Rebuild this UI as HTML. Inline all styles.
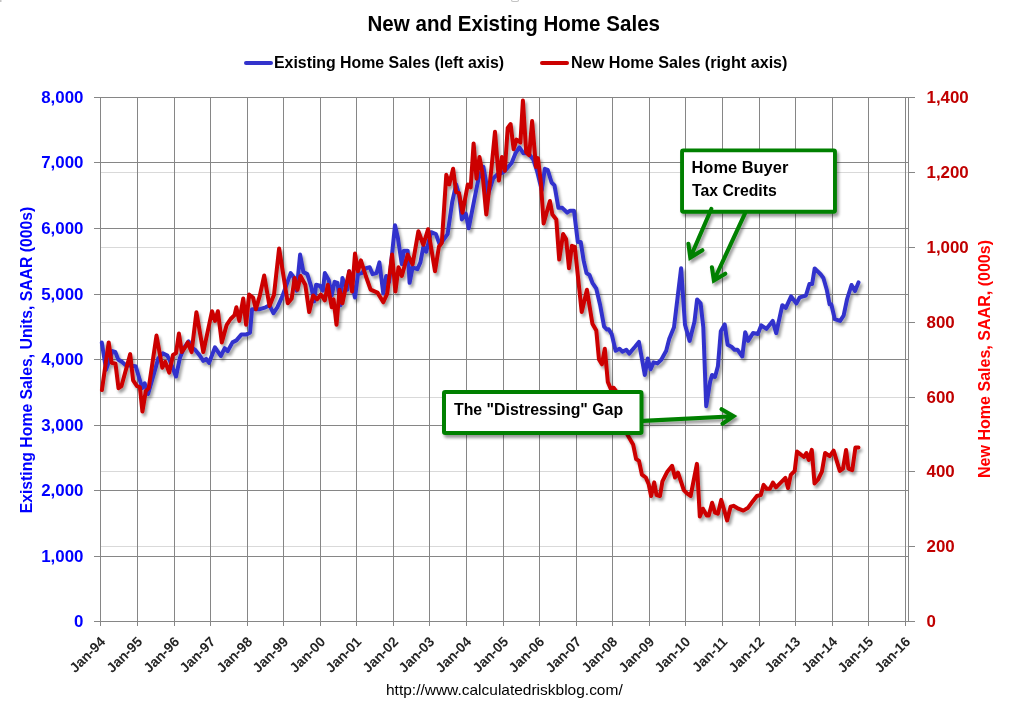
<!DOCTYPE html><html><head><meta charset="utf-8"><style>html,body{margin:0;padding:0;background:#fff;}svg{display:block;will-change:transform;}</style></head><body>
<svg width="1028" height="708" viewBox="0 0 1028 708" font-family='"Liberation Sans", sans-serif'>
<defs><filter id="sh" x="-5%" y="-5%" width="110%" height="110%"><feGaussianBlur in="SourceAlpha" stdDeviation="1.7"/><feOffset dx="2.2" dy="2.8" result="b"/><feComponentTransfer><feFuncA type="linear" slope="0.38"/></feComponentTransfer><feMerge><feMergeNode/><feMergeNode in="SourceGraphic"/></feMerge></filter><filter id="sh2" x="-10%" y="-10%" width="120%" height="130%"><feGaussianBlur in="SourceAlpha" stdDeviation="1.5"/><feOffset dx="2" dy="3"/><feComponentTransfer><feFuncA type="linear" slope="0.4"/></feComponentTransfer><feMerge><feMergeNode/><feMergeNode in="SourceGraphic"/></feMerge></filter></defs>
<rect width="1028" height="708" fill="#fff"/>
<filter id="hb"><feGaussianBlur stdDeviation="0.6"/></filter><rect x="511.5" y="-4" width="7" height="5.5" rx="1.5" fill="none" stroke="#c4c4c4" stroke-width="1.2" filter="url(#hb)"/><rect x="-2" y="-2" width="3.5" height="4" fill="#c4c4c4" filter="url(#hb)"/>
<rect x="101" y="172" width="807" height="1" fill="#d9d9d9"/>
<rect x="101" y="247" width="807" height="1" fill="#d9d9d9"/>
<rect x="101" y="322" width="807" height="1" fill="#d9d9d9"/>
<rect x="101" y="397" width="807" height="1" fill="#d9d9d9"/>
<rect x="101" y="471" width="807" height="1" fill="#d9d9d9"/>
<rect x="101" y="546" width="807" height="1" fill="#d9d9d9"/>
<rect x="94" y="97" width="814" height="1" fill="#868686"/>
<rect x="94" y="162" width="814" height="1" fill="#868686"/>
<rect x="94" y="228" width="814" height="1" fill="#868686"/>
<rect x="94" y="294" width="814" height="1" fill="#868686"/>
<rect x="94" y="359" width="814" height="1" fill="#868686"/>
<rect x="94" y="425" width="814" height="1" fill="#868686"/>
<rect x="94" y="490" width="814" height="1" fill="#868686"/>
<rect x="94" y="556" width="814" height="1" fill="#868686"/>
<rect x="94" y="621" width="814" height="1" fill="#868686"/>
<rect x="100" y="97" width="1" height="529" fill="#868686"/>
<rect x="137" y="97" width="1" height="529" fill="#868686"/>
<rect x="174" y="97" width="1" height="529" fill="#868686"/>
<rect x="210" y="97" width="1" height="529" fill="#868686"/>
<rect x="247" y="97" width="1" height="529" fill="#868686"/>
<rect x="283" y="97" width="1" height="529" fill="#868686"/>
<rect x="320" y="97" width="1" height="529" fill="#868686"/>
<rect x="356" y="97" width="1" height="529" fill="#868686"/>
<rect x="393" y="97" width="1" height="529" fill="#868686"/>
<rect x="429" y="97" width="1" height="529" fill="#868686"/>
<rect x="466" y="97" width="1" height="529" fill="#868686"/>
<rect x="503" y="97" width="1" height="529" fill="#868686"/>
<rect x="539" y="97" width="1" height="529" fill="#868686"/>
<rect x="576" y="97" width="1" height="529" fill="#868686"/>
<rect x="612" y="97" width="1" height="529" fill="#868686"/>
<rect x="649" y="97" width="1" height="529" fill="#868686"/>
<rect x="685" y="97" width="1" height="529" fill="#868686"/>
<rect x="722" y="97" width="1" height="529" fill="#868686"/>
<rect x="759" y="97" width="1" height="529" fill="#868686"/>
<rect x="795" y="97" width="1" height="529" fill="#868686"/>
<rect x="832" y="97" width="1" height="529" fill="#868686"/>
<rect x="868" y="97" width="1" height="529" fill="#868686"/>
<rect x="905" y="97" width="1" height="529" fill="#868686"/>
<rect x="908" y="97" width="1" height="525" fill="#868686"/>
<rect x="908" y="97" width="7" height="1" fill="#868686"/>
<rect x="908" y="172" width="7" height="1" fill="#868686"/>
<rect x="908" y="247" width="7" height="1" fill="#868686"/>
<rect x="908" y="322" width="7" height="1" fill="#868686"/>
<rect x="908" y="397" width="7" height="1" fill="#868686"/>
<rect x="908" y="471" width="7" height="1" fill="#868686"/>
<rect x="908" y="546" width="7" height="1" fill="#868686"/>
<rect x="908" y="621" width="7" height="1" fill="#868686"/>
<text x="83.5" y="103" text-anchor="end" font-size="16.9" font-weight="bold" fill="#0000ff">8,000</text>
<text x="83.5" y="168" text-anchor="end" font-size="16.9" font-weight="bold" fill="#0000ff">7,000</text>
<text x="83.5" y="234" text-anchor="end" font-size="16.9" font-weight="bold" fill="#0000ff">6,000</text>
<text x="83.5" y="300" text-anchor="end" font-size="16.9" font-weight="bold" fill="#0000ff">5,000</text>
<text x="83.5" y="365" text-anchor="end" font-size="16.9" font-weight="bold" fill="#0000ff">4,000</text>
<text x="83.5" y="431" text-anchor="end" font-size="16.9" font-weight="bold" fill="#0000ff">3,000</text>
<text x="83.5" y="496" text-anchor="end" font-size="16.9" font-weight="bold" fill="#0000ff">2,000</text>
<text x="83.5" y="562" text-anchor="end" font-size="16.9" font-weight="bold" fill="#0000ff">1,000</text>
<text x="83.5" y="627" text-anchor="end" font-size="16.9" font-weight="bold" fill="#0000ff">0</text>
<text x="926.5" y="103" font-size="16.9" font-weight="bold" fill="#c00000">1,400</text>
<text x="926.5" y="178" font-size="16.9" font-weight="bold" fill="#c00000">1,200</text>
<text x="926.5" y="253" font-size="16.9" font-weight="bold" fill="#c00000">1,000</text>
<text x="926.5" y="328" font-size="16.9" font-weight="bold" fill="#c00000">800</text>
<text x="926.5" y="403" font-size="16.9" font-weight="bold" fill="#c00000">600</text>
<text x="926.5" y="477" font-size="16.9" font-weight="bold" fill="#c00000">400</text>
<text x="926.5" y="552" font-size="16.9" font-weight="bold" fill="#c00000">200</text>
<text x="926.5" y="627" font-size="16.9" font-weight="bold" fill="#c00000">0</text>
<text transform="translate(106.2,642.6) rotate(-45)" text-anchor="end" font-size="13.8" font-weight="bold" fill="#262626">Jan-94</text>
<text transform="translate(143.2,642.6) rotate(-45)" text-anchor="end" font-size="13.8" font-weight="bold" fill="#262626">Jan-95</text>
<text transform="translate(180.2,642.6) rotate(-45)" text-anchor="end" font-size="13.8" font-weight="bold" fill="#262626">Jan-96</text>
<text transform="translate(216.2,642.6) rotate(-45)" text-anchor="end" font-size="13.8" font-weight="bold" fill="#262626">Jan-97</text>
<text transform="translate(253.2,642.6) rotate(-45)" text-anchor="end" font-size="13.8" font-weight="bold" fill="#262626">Jan-98</text>
<text transform="translate(289.2,642.6) rotate(-45)" text-anchor="end" font-size="13.8" font-weight="bold" fill="#262626">Jan-99</text>
<text transform="translate(326.2,642.6) rotate(-45)" text-anchor="end" font-size="13.8" font-weight="bold" fill="#262626">Jan-00</text>
<text transform="translate(362.2,642.6) rotate(-45)" text-anchor="end" font-size="13.8" font-weight="bold" fill="#262626">Jan-01</text>
<text transform="translate(399.2,642.6) rotate(-45)" text-anchor="end" font-size="13.8" font-weight="bold" fill="#262626">Jan-02</text>
<text transform="translate(435.2,642.6) rotate(-45)" text-anchor="end" font-size="13.8" font-weight="bold" fill="#262626">Jan-03</text>
<text transform="translate(472.2,642.6) rotate(-45)" text-anchor="end" font-size="13.8" font-weight="bold" fill="#262626">Jan-04</text>
<text transform="translate(509.2,642.6) rotate(-45)" text-anchor="end" font-size="13.8" font-weight="bold" fill="#262626">Jan-05</text>
<text transform="translate(545.2,642.6) rotate(-45)" text-anchor="end" font-size="13.8" font-weight="bold" fill="#262626">Jan-06</text>
<text transform="translate(582.2,642.6) rotate(-45)" text-anchor="end" font-size="13.8" font-weight="bold" fill="#262626">Jan-07</text>
<text transform="translate(618.2,642.6) rotate(-45)" text-anchor="end" font-size="13.8" font-weight="bold" fill="#262626">Jan-08</text>
<text transform="translate(655.2,642.6) rotate(-45)" text-anchor="end" font-size="13.8" font-weight="bold" fill="#262626">Jan-09</text>
<text transform="translate(691.2,642.6) rotate(-45)" text-anchor="end" font-size="13.8" font-weight="bold" fill="#262626">Jan-10</text>
<text transform="translate(728.2,642.6) rotate(-45)" text-anchor="end" font-size="13.8" font-weight="bold" fill="#262626">Jan-11</text>
<text transform="translate(765.2,642.6) rotate(-45)" text-anchor="end" font-size="13.8" font-weight="bold" fill="#262626">Jan-12</text>
<text transform="translate(801.2,642.6) rotate(-45)" text-anchor="end" font-size="13.8" font-weight="bold" fill="#262626">Jan-13</text>
<text transform="translate(838.2,642.6) rotate(-45)" text-anchor="end" font-size="13.8" font-weight="bold" fill="#262626">Jan-14</text>
<text transform="translate(874.2,642.6) rotate(-45)" text-anchor="end" font-size="13.8" font-weight="bold" fill="#262626">Jan-15</text>
<text transform="translate(911.2,642.6) rotate(-45)" text-anchor="end" font-size="13.8" font-weight="bold" fill="#262626">Jan-16</text>
<text transform="translate(31.8,360) rotate(-90)" text-anchor="middle" font-size="16.6" textLength="306.7" lengthAdjust="spacingAndGlyphs" font-weight="bold" fill="#0000ff">Existing Home Sales, Units, SAAR (000s)</text>
<text transform="translate(990.4,359) rotate(-90)" text-anchor="middle" font-size="16.6" textLength="238.1" lengthAdjust="spacingAndGlyphs" font-weight="bold" fill="#ff0000">New Home Sales, SAAR, (000s)</text>
<text x="367.5" y="31" font-size="21.5" textLength="292.5" lengthAdjust="spacingAndGlyphs" font-weight="bold" fill="#000">New and Existing Home Sales</text>
<line x1="246" y1="63" x2="271" y2="63" stroke="#3333cc" stroke-width="4" stroke-linecap="round"/>
<text x="274" y="68" font-size="16.3" textLength="230.1" lengthAdjust="spacingAndGlyphs" font-weight="bold" fill="#000">Existing Home Sales (left axis)</text>
<line x1="542" y1="63" x2="567" y2="63" stroke="#cc0000" stroke-width="4" stroke-linecap="round"/>
<text x="571" y="68" font-size="16.3" textLength="216.5" lengthAdjust="spacingAndGlyphs" font-weight="bold" fill="#000">New Home Sales (right axis)</text>
<g filter="url(#sh)"><path d="M101.8 342.6 L106.1 369.7 L112.5 351.1 L115.3 351.9 L118.2 359.5 L122.1 362.0 L125.5 365.0 L135.7 366.3 L142.2 388.0 L144.7 383.3 L148.1 394.0 L158.3 358.4 L162.8 353.3 L167.3 355.6 L170.1 361.2 L176.0 376.5 L179.9 358.0 L183.8 348.2 L188.6 341.4 L191.6 347.3 L195.5 350.2 L199.4 355.0 L203.3 360.9 L206.2 358.9 L209.1 362.8 L215.0 347.3 L220.8 356.0 L224.7 348.2 L227.6 351.2 L232.5 342.4 L236.4 340.4 L241.3 334.6 L246.1 334.6 L250.0 332.6 L252.0 309.2 L259.8 309.2 L265.6 307.3 L269.5 305.3 L273.4 313.1 L277.3 307.3 L282.2 296.6 L290.7 273.1 L293.6 277.0 L296.6 290.6 L300.1 254.6 L303.4 272.1 L307.3 274.1 L311.2 286.7 L314.1 301.4 L316.1 284.8 L320.0 285.8 L322.9 290.6 L324.8 273.1 L328.7 279.9 L331.7 295.5 L334.6 281.9 L337.5 282.8 L340.4 305.3 L342.4 278.0 L347.3 289.7 L349.2 271.2 L355.0 297.5 L358.0 274.1 L361.9 273.1 L365.8 268.2 L369.7 267.3 L372.6 274.1 L376.5 273.1 L379.4 262.4 L383.3 293.6 L386.2 276.0 L389.2 281.9 L395.0 225.3 L397.9 238.0 L401.8 264.3 L403.8 250.7 L407.7 250.7 L409.6 282.8 L412.6 267.3 L417.4 269.2 L420.4 262.4 L423.3 246.8 L426.2 251.7 L431.1 232.2 L435.9 234.1 L439.8 244.8 L447.6 234.1 L452.2 202.0 L456.1 184.4 L459.0 194.2 L461.9 219.5 L465.8 213.7 L468.7 228.3 L474.6 198.1 L478.5 178.6 L483.4 166.9 L488.2 194.2 L493.1 178.6 L497.0 174.7 L502.8 172.7 L506.7 168.8 L511.6 163.0 L515.5 153.2 L519.4 147.4 L523.3 153.2 L528.2 153.2 L533.1 159.1 L537.0 170.8 L541.8 190.3 L544.8 168.8 L547.7 169.8 L551.6 182.5 L554.5 185.4 L558.4 207.8 L562.3 207.8 L567.2 212.7 L570.1 210.7 L574.0 210.7 L577.8 241.9 L580.7 241.9 L583.6 260.4 L586.5 273.1 L589.5 275.0 L592.4 282.8 L596.3 288.7 L600.2 305.3 L604.1 326.7 L607.0 329.6 L608.7 329.2 L611.7 334.1 L615.6 350.7 L619.5 348.7 L622.4 351.7 L626.3 349.7 L629.2 353.6 L635.0 346.8 L638.9 341.9 L644.8 375.0 L647.7 358.5 L650.6 369.2 L653.6 362.4 L657.5 363.4 L661.4 359.5 L666.2 350.7 L669.2 339.0 L674.0 327.3 L681.1 268.2 L685.0 324.8 L689.6 340.9 L694.5 321.4 L697.1 299.4 L700.6 303.3 L703.3 327.3 L706.2 406.2 L710.1 381.9 L712.0 375.0 L715.0 377.0 L717.9 366.3 L720.8 331.2 L724.7 324.4 L727.6 344.8 L731.5 346.8 L734.5 349.7 L737.4 349.7 L742.3 356.5 L745.2 332.2 L748.1 340.9 L753.0 333.1 L754.3 333.2 L757.8 334.0 L761.3 325.3 L766.5 328.8 L772.7 320.9 L776.2 333.2 L782.3 305.2 L785.8 307.8 L791.1 296.4 L796.3 303.4 L799.8 297.3 L805.9 295.5 L809.4 284.1 L812.1 284.1 L814.7 268.4 L820.8 274.5 L823.4 278.0 L826.9 290.3 L829.6 304.3 L831.3 304.3 L834.8 319.2 L840.1 320.9 L843.6 315.7 L847.1 299.0 L851.5 285.0 L855.0 291.1 L858.5 282.4" fill="none" stroke="#3333cc" stroke-width="4" stroke-linejoin="round" stroke-linecap="round"/>
<path d="M101.9 390.1 L108.7 342.4 L111.6 362.8 L115.5 363.8 L118.5 388.2 L121.4 386.2 L130.2 354.1 L133.1 380.4 L137.0 386.2 L139.9 387.2 L142.4 411.6 L145.8 391.1 L148.7 388.2 L156.5 335.6 L162.3 367.7 L165.3 361.9 L169.2 372.6 L173.0 355.0 L176.0 353.1 L178.9 333.6 L181.8 352.1 L185.7 346.3 L187.7 342.4 L191.6 352.1 L196.4 312.2 L203.3 352.1 L212.0 311.2 L215.0 320.9 L217.9 311.2 L221.8 342.4 L226.7 324.8 L230.6 319.0 L234.5 315.1 L236.4 307.3 L239.3 320.9 L243.2 298.5 L246.1 324.8 L249.1 294.6 L253.0 297.5 L255.9 309.2 L259.8 295.6 L264.2 275.5 L269.5 306.0 L274.0 294.7 L279.1 248.4 L287.8 303.3 L291.7 298.4 L294.6 278.0 L297.5 289.7 L300.5 276.0 L305.3 284.8 L309.2 312.1 L313.1 295.5 L317.0 299.4 L320.9 294.5 L324.8 300.4 L327.8 284.8 L331.7 307.2 L333.6 299.4 L336.5 324.8 L339.5 289.7 L342.4 303.3 L349.2 271.2 L352.1 291.6 L355.0 253.6 L358.0 271.2 L360.9 260.4 L365.8 276.0 L370.6 289.7 L377.5 292.6 L383.3 302.3 L387.2 293.6 L392.1 254.6 L395.4 291.6 L398.5 267.3 L401.8 276.0 L407.7 254.6 L412.6 264.3 L418.4 231.2 L423.3 244.8 L428.1 229.2 L435.0 271.2 L438.9 246.8 L441.8 242.9 L446.3 174.7 L449.2 184.4 L453.1 168.8 L456.1 192.2 L459.0 193.2 L462.5 212.7 L467.8 184.4 L470.7 187.3 L473.6 143.5 L476.5 178.6 L479.5 157.1 L482.4 172.7 L486.3 214.6 L491.2 170.8 L495.0 131.8 L498.9 180.5 L501.9 157.1 L504.8 170.8 L507.7 127.9 L510.6 124.0 L513.6 149.3 L516.5 139.6 L520.4 142.5 L522.9 100.6 L526.2 152.3 L529.2 155.2 L532.1 121.1 L536.0 166.9 L537.9 158.1 L540.9 182.5 L543.6 223.4 L549.9 201.0 L552.4 214.6 L556.3 219.5 L559.2 259.5 L563.1 234.1 L566.1 239.0 L569.0 268.2 L571.9 245.8 L574.8 246.8 L581.7 312.1 L586.9 289.7 L592.4 323.8 L596.3 330.6 L599.0 359.5 L601.9 364.3 L604.8 348.7 L607.8 381.9 L610.7 388.7 L613.6 387.7 L616.5 391.6 L627.3 434.6 L633.1 444.4 L636.1 459.0 L639.0 460.9 L641.9 474.6 L645.8 477.5 L648.7 484.3 L651.1 496.0 L654.2 482.4 L656.5 495.0 L660.0 496.0 L662.4 481.4 L667.3 471.7 L672.1 465.8 L675.0 477.5 L678.0 472.6 L683.8 490.2 L686.7 493.1 L690.6 496.0 L696.9 463.9 L699.8 516.5 L702.9 508.7 L706.8 515.5 L708.8 515.5 L712.1 502.8 L715.0 512.6 L717.9 513.6 L721.2 499.9 L723.8 508.7 L727.1 520.4 L730.6 506.7 L733.5 505.8 L738.4 508.7 L743.3 510.6 L748.1 507.7 L753.0 500.9 L756.9 496.0 L760.8 495.0 L763.6 484.9 L766.7 488.8 L769.8 488.8 L772.9 482.6 L776.0 487.3 L780.7 482.6 L785.4 477.9 L788.0 488.0 L790.8 474.8 L794.7 470.9 L797.0 451.5 L800.9 454.6 L804.0 456.9 L806.4 453.0 L808.7 460.0 L811.8 449.9 L814.5 483.4 L818.1 479.5 L821.9 471.7 L825.1 453.0 L829.7 456.1 L833.6 450.7 L839.8 470.9 L843.0 468.6 L846.1 449.9 L848.4 468.6 L852.3 470.1 L855.4 447.6 L858.5 447.6" fill="none" stroke="#cc0000" stroke-width="4" stroke-linejoin="round" stroke-linecap="round"/></g>
<g filter="url(#sh2)">
<rect x="682.05" y="150.4" width="152.9" height="61.3" rx="1.2" fill="#fff" stroke="#008000" stroke-width="3.9"/>
<path d="M711.3 209 L690.3 257.6 M688.4 243.8 L690.3 257.6 L702.4 250.2" fill="none" stroke="#008000" stroke-width="4.1" stroke-linecap="round" stroke-linejoin="miter" stroke-miterlimit="10"/>
<path d="M745 213.3 L713.9 280.5 M711.9 267.3 L713.9 280.5 L725.3 273.7" fill="none" stroke="#008000" stroke-width="4.1" stroke-linecap="round" stroke-linejoin="miter" stroke-miterlimit="10"/>
<rect x="444" y="392" width="197.5" height="41" rx="1.2" fill="#fff" stroke="#008000" stroke-width="4"/>
<path d="M643.3 420.9 L733.5 416.2 M721.5 409.2 L733.5 416.2 L722.5 423.8" fill="none" stroke="#008000" stroke-width="4.1" stroke-linecap="round" stroke-linejoin="miter" stroke-miterlimit="10"/>
</g>
<text x="691.5" y="173" font-size="16.3" textLength="96.8" lengthAdjust="spacingAndGlyphs" font-weight="bold" fill="#000">Home Buyer</text>
<text x="692" y="195.5" font-size="16.3" textLength="84.8" lengthAdjust="spacingAndGlyphs" font-weight="bold" fill="#000">Tax Credits</text>
<text x="454" y="414.5" font-size="16.3" textLength="169.1" lengthAdjust="spacingAndGlyphs" font-weight="bold" fill="#000">The "Distressing" Gap</text>
<text x="386" y="695" font-size="14.3" textLength="236.7" lengthAdjust="spacingAndGlyphs" fill="#000">http://www.calculatedriskblog.com/</text>
</svg></body></html>
